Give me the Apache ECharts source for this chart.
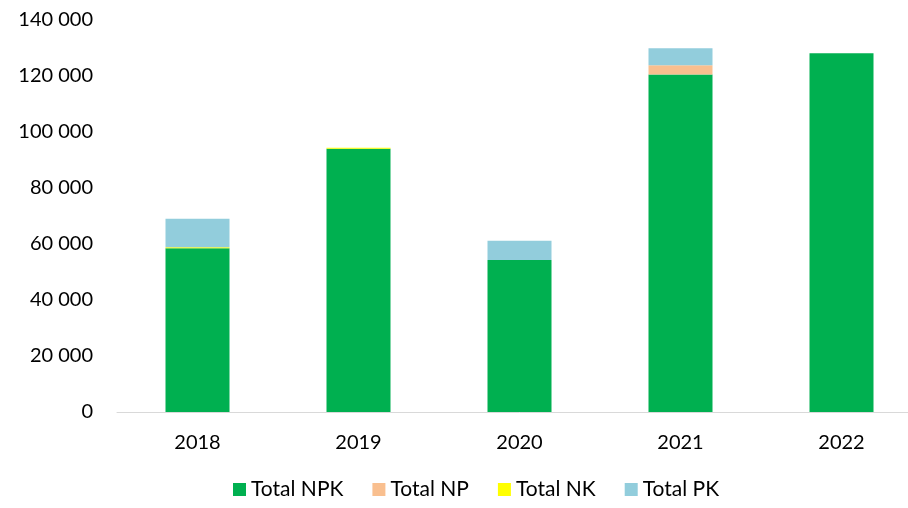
<!DOCTYPE html>
<html>
<head>
<meta charset="utf-8">
<script src="https://cdn.jsdelivr.net/npm/echarts@6/dist/echarts.min.js"></script>
<style>
  html, body { margin: 0; padding: 0; background: #fff; overflow: hidden; }
  #chart { width: 922px; height: 508px; }
</style>
</head>
<body>
<div id="chart"></div>
<script>
const years = ['2018', '2019', '2020', '2021', '2022'];
const totalNPK = [58500, 94000, 54300, 120500, 128100];
const totalNP = [0, 0, 0, 3300, 0];
const totalNK = [350, 350, 0, 0, 0];
const totalPK = [10200, 0, 6900, 6100, 0];

const chart = echarts.init(document.getElementById('chart'));
const font = 'Lato, "Open Sans", sans-serif';

function fmt(v) {
  return String(v).replace(/\B(?=(\d{3})+(?!\d))/g, ' ');
}

const mk = (name, data, color) => ({
  name, type: 'bar', stack: 'total', data, barWidth: 64,
  itemStyle: { color }
});

chart.setOption({
  animation: false,
  textStyle: { fontFamily: font },
  grid: { left: 117, right: 0, top: 20, bottom: 96 },
  legend: {
    bottom: 3,
    left: 228,
    itemWidth: 13,
    itemHeight: 13,
    itemGap: 29,
    icon: 'rect',
    textStyle: { fontSize: 21, color: '#000', fontFamily: font }
  },
  xAxis: {
    type: 'category',
    data: years,
    axisLine: { lineStyle: { color: '#d9d9d9' } },
    axisTick: { show: false },
    axisLabel: { color: '#000', fontSize: 20, margin: 21, fontFamily: font }
  },
  yAxis: {
    type: 'value',
    min: 0,
    max: 140000,
    interval: 20000,
    splitLine: { show: false },
    axisLine: { show: false },
    axisTick: { show: false },
    axisLabel: { color: '#000', fontSize: 20, margin: 24, fontFamily: font, formatter: fmt }
  },
  series: [
    mk('Total NPK', totalNPK, '#00b050'),
    mk('Total NP', totalNP, '#f9bf8f'),
    mk('Total NK', totalNK, '#ffff00'),
    mk('Total PK', totalPK, '#92cddc')
  ]
});
</script>
</body>
</html>
